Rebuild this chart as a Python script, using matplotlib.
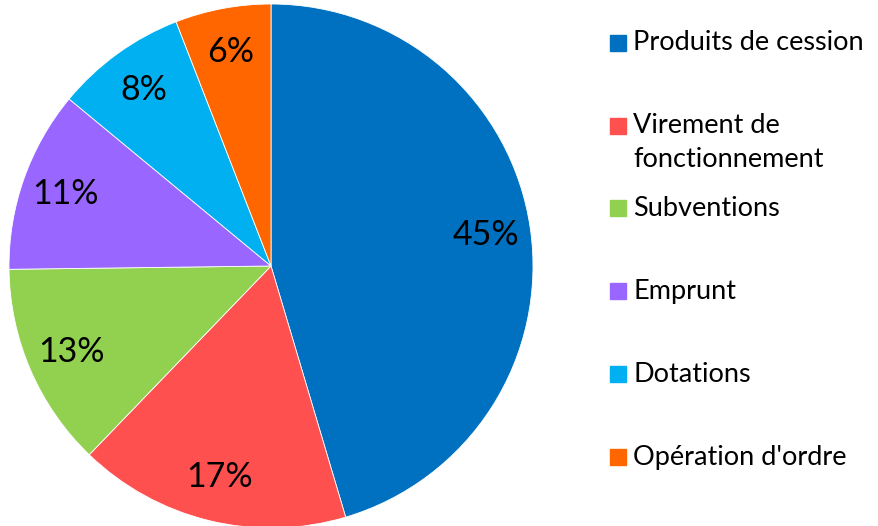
import matplotlib.pyplot as plt
from matplotlib.patches import Rectangle

# data (percent of total)
categories = ["Produits de cession", "Virement de\nfonctionnement", "Subventions",
              "Emprunt", "Dotations", "Opération d'ordre"]
values = [45.4, 16.8, 12.6, 11.2, 8.1, 5.9]
colors = ["#0070C0", "#FF5050", "#92D050", "#9966FF", "#00B0F0", "#FF6600"]

plt.rcParams['font.family'] = ['Lato', 'DejaVu Sans']

W, H = 879, 526
fig = plt.figure(figsize=(W / 100, H / 100), dpi=100)

# pie centre (271, 266) px, radius 262 px
cx, cy, r = 271, 266, 262
ax = fig.add_axes([(cx - r) / W, (H - cy - r) / H, 2 * r / W, 2 * r / H])
wedges, texts, autotexts = ax.pie(values, colors=colors, startangle=90, counterclock=False,
                                  autopct='%.0f%%', pctdistance=0.83,
                                  wedgeprops=dict(edgecolor='white', linewidth=0.6),
                                  textprops=dict(fontsize=24.5, color='black'))
ax.set_xlim(-1, 1)
ax.set_ylim(-1, 1)
ax.set_aspect('equal')
ax.axis('off')

# legend drawn by hand to match the spacing
y_items = [43, 126, 208, 291, 374, 457]
line_gap = 34
for lab, col, y in zip(categories, colors, y_items):
    fig.add_artist(Rectangle((610 / W, 1 - (y + 8) / H), 16 / W, 16 / H,
                             transform=fig.transFigure, color=col))
    for j, line in enumerate(lab.split('\n')):
        fig.text(633 / W, 1 - (y + j * line_gap) / H, line, fontsize=19.5,
                 va='center', ha='left')

fig.savefig("out.png", dpi=100)
